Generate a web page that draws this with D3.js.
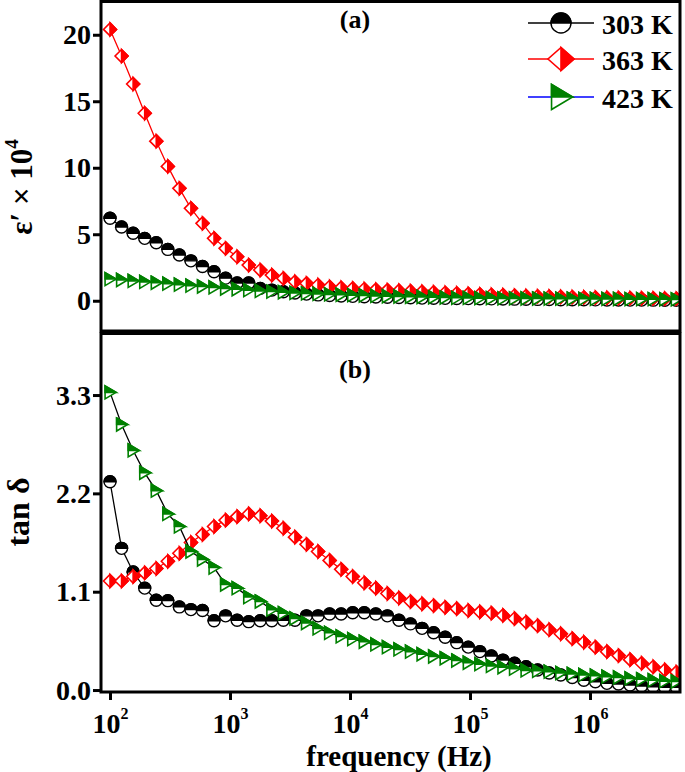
<!DOCTYPE html>
<html><head><meta charset="utf-8">
<script src="https://cdn.jsdelivr.net/npm/d3@7"></script>
<style>body{margin:0;background:#fff}svg{display:block}</style>
</head><body>
<svg id="c" width="685" height="772"></svg>
<script>
const freq = [100,124.8,155.8,194.5,242.8,303.1,378.4,472.3,589.6,735.9,
 918.3,1146,1431,1786,2230,2783,3475,4337,5414,6758,
 8433,10527,13141,16403,20477,25560,31910,39830,49720,62060,
 77450,96680,120700,150650,188060,234760,293050,365800,456650,570000,
 711200,887800,1108300,1383400,1727000,2155700,2691100,3359300,4193400,5234600];

const eps303 = [6.2,5.55,5.07,4.69,4.36,3.86,3.44,3.0,2.58,2.18,
 1.7,1.33,1.33,0.93,0.8,0.68,0.58,0.5,0.44,0.4,
 0.36,0.33,0.3,0.28,0.26,0.24,0.22,0.2,0.19,0.18,
 0.17,0.16,0.15,0.14,0.13,0.12,0.11,0.1,0.09,0.08,
 0.075,0.07,0.065,0.06,0.055,0.05,0.05,0.045,0.04,0.04];
const eps363 = [20.4,18.4,16.3,14.1,12.0,10.1,8.45,6.95,5.82,4.69,
 3.94,3.31,2.68,2.31,1.93,1.68,1.43,1.31,1.18,1.05,
 0.98,0.93,0.88,0.84,0.8,0.76,0.72,0.68,0.64,0.6,
 0.56,0.52,0.48,0.45,0.42,0.39,0.36,0.34,0.32,0.3,
 0.28,0.26,0.24,0.22,0.21,0.2,0.19,0.18,0.17,0.16];
const eps423 = [1.63,1.56,1.49,1.42,1.35,1.28,1.21,1.14,1.07,1.0,
 0.92,0.86,0.8,0.74,0.69,0.64,0.59,0.55,0.51,0.48,
 0.45,0.42,0.39,0.36,0.34,0.32,0.3,0.28,0.26,0.24,
 0.22,0.21,0.2,0.19,0.18,0.175,0.17,0.165,0.16,0.155,
 0.15,0.145,0.14,0.135,0.13,0.125,0.12,0.115,0.11,0.1];

const tan303 = [2.33,1.585,1.32,1.14,1.005,1.0,0.93,0.9,0.89,0.775,
 0.83,0.78,0.765,0.775,0.775,0.78,0.78,0.83,0.83,0.85,
 0.85,0.865,0.865,0.85,0.83,0.78,0.74,0.69,0.64,0.59,
 0.53,0.48,0.43,0.38,0.335,0.3,0.26,0.224,0.19,0.168,
 0.14,0.11,0.093,0.075,0.067,0.056,0.045,0.037,0.03,0.03];
const tan363 = [1.22,1.22,1.27,1.31,1.36,1.44,1.53,1.65,1.74,1.83,
 1.90,1.94,1.97,1.95,1.89,1.81,1.71,1.63,1.55,1.45,
 1.35,1.27,1.20,1.14,1.08,1.03,0.99,0.965,0.945,0.925,
 0.91,0.89,0.875,0.86,0.835,0.80,0.76,0.72,0.675,0.63,
 0.575,0.535,0.48,0.43,0.385,0.34,0.30,0.26,0.225,0.20];
const tan423 = [3.33,2.97,2.68,2.43,2.23,1.97,1.83,1.55,1.46,1.37,
 1.18,1.14,1.04,0.99,0.90,0.86,0.80,0.75,0.69,0.64,
 0.60,0.57,0.54,0.51,0.48,0.455,0.43,0.40,0.375,0.355,
 0.33,0.305,0.29,0.27,0.255,0.24,0.22,0.215,0.205,0.19,
 0.18,0.17,0.16,0.15,0.14,0.13,0.12,0.11,0.10,0.095];

const seriesNames = ["303 K","363 K","423 K"];
const xTicks = [1e2,1e3,1e4,1e5,1e6];
const xTickExp = ["2","3","4","5","6"];
const epsTicks = [0,5,10,15,20];
const epsTickLabels = ["0","5","10","15","20"];
const tanTicks = [0,1.1,2.2,3.3];
const tanTickLabels = ["0.0","1.1","2.2","3.3"];

const FONT = "'Liberation Serif','Times New Roman',serif";
const svg = d3.select("#c");
const L = 101, R = 680;
const x = d3.scaleLog().domain([84.1, 5.62e6]).range([L, R]);
const yTop = d3.scaleLinear().domain([-2.35, 22.5]).range([332, 1.5]);
const yBot = d3.scaleLinear().domain([-0.022, 3.994]).range([692, 333]);

const defs = svg.append("defs");
defs.append("clipPath").attr("id","clipA").append("rect").attr("x",L).attr("y",1.5).attr("width",R-L).attr("height",332-1.5);
defs.append("clipPath").attr("id","clipB").append("rect").attr("x",L).attr("y",333).attr("width",R-L).attr("height",692-333);

function circleMarker(g, r){
  g.append("circle").attr("r",r).attr("fill","#fff").attr("stroke","#000").attr("stroke-width",1.4);
  g.append("path").attr("d",`M${-r},0A${r},${r} 0 0 1 ${r},0Z`).attr("fill","#000").attr("stroke","#000").attr("stroke-width",1.4);
}
function diamondMarker(g, w, h){
  g.append("path").attr("d",`M0,${-h}L${w},0L0,${h}L${-w},0Z`).attr("fill","#fff").attr("stroke","#ff0000").attr("stroke-width",1.6);
  g.append("path").attr("d",`M0,${-h}L${w},0L0,${h}Z`).attr("fill","#ff0000").attr("stroke","#ff0000").attr("stroke-width",1.6);
}
function triMarker(g, w, h){
  const a = -w*0.45, b = w*0.55;
  g.append("path").attr("d",`M${a},${-h}L${b},0L${a},${h}Z`).attr("fill","#fff").attr("stroke","#008000").attr("stroke-width",1.6);
  g.append("path").attr("d",`M${a},${-h}L${b},0L${a},0Z`).attr("fill","#008000").attr("stroke","#008000").attr("stroke-width",1.6);
}
const markerFns = [
  g=>circleMarker(g, 6),
  g=>diamondMarker(g, 6.5, 6.5),
  g=>triMarker(g, 11, 6.5)
];

function drawPanel(yScale, data, lineColors, clipId){
  const g = svg.append("g").attr("clip-path",`url(#${clipId})`);
  data.forEach((vals, si) => {
    const pts = freq.map((f,i)=>[f, vals[i]]);
    const line = d3.line().x(d=>x(d[0])).y(d=>yScale(d[1]));
    g.append("path").attr("d", line(pts)).attr("fill","none").attr("stroke",lineColors[si]).attr("stroke-width",1.3);
    pts.forEach(p => {
      const mg = g.append("g").attr("transform",`translate(${x(p[0])},${yScale(p[1])})`);
      markerFns[si](mg);
    });
  });
}

drawPanel(yTop, [eps303, eps363, eps423], ["#000","#ff0000","#0000ff"], "clipA");
drawPanel(yBot, [tan303, tan363, tan423], ["#000","#ff0000","#000"], "clipB");

svg.append("rect").attr("x",L).attr("y",1.5).attr("width",R-L).attr("height",331-1.5).attr("fill","none").attr("stroke","#000").attr("stroke-width",3);
svg.append("rect").attr("x",L).attr("y",333.5).attr("width",R-L).attr("height",692-333.5).attr("fill","none").attr("stroke","#000").attr("stroke-width",3);

function yAxis(scale, ticks, labels){
  const ax = svg.append("g").attr("transform",`translate(${L},0)`)
    .call(d3.axisLeft(scale).tickValues(ticks).tickSize(8).tickPadding(2).tickFormat((d,i)=>labels[i]));
  ax.select(".domain").remove();
  ax.selectAll(".tick line").attr("stroke","#000").attr("stroke-width",3);
  ax.selectAll(".tick text").attr("font-family",FONT).attr("font-weight","bold").attr("font-size",28).attr("fill","#000");
}
yAxis(yTop, epsTicks, epsTickLabels);
yAxis(yBot, tanTicks, tanTickLabels);

const xa = svg.append("g").attr("transform",`translate(0,692)`)
  .call(d3.axisBottom(x).tickValues(xTicks).tickSize(8).tickFormat(()=>""));
xa.select(".domain").remove();
xa.selectAll(".tick line").attr("stroke","#000").attr("stroke-width",3);
xa.selectAll(".tick").each(function(d,i){
  const t = d3.select(this).append("text").attr("y",41).attr("text-anchor","middle")
    .attr("font-family",FONT).attr("font-weight","bold").attr("font-size",28).attr("fill","#000");
  t.append("tspan").text("10");
  t.append("tspan").attr("dy",-14).attr("font-size",16).text(xTickExp[i]);
});

svg.append("text").attr("transform","translate(399,765.5)").attr("text-anchor","middle")
  .attr("font-family",FONT).attr("font-weight","bold").attr("font-size",29).text("frequency (Hz)");
const yl1 = svg.append("text").attr("transform","translate(32,187) rotate(-90)").attr("text-anchor","middle")
  .attr("font-family",FONT).attr("font-weight","bold").attr("font-size",31);
yl1.append("tspan").text("ε′ × 10");
yl1.append("tspan").attr("dy",-14).attr("font-size",19).text("4");
svg.append("text").attr("transform","translate(29,512) rotate(-90)").attr("text-anchor","middle")
  .attr("font-family",FONT).attr("font-weight","bold").attr("font-size",32).text("tan δ");

svg.append("text").attr("x",355).attr("y",28).attr("text-anchor","middle").attr("font-family",FONT).attr("font-weight","bold").attr("font-size",26).text("(a)");
svg.append("text").attr("x",355).attr("y",378).attr("text-anchor","middle").attr("font-family",FONT).attr("font-weight","bold").attr("font-size",26).text("(b)");

const legY = [23, 59, 97];
const legLine = ["#000","#ff0000","#0000ff"];
const legSizes = [
  g=>circleMarker(g,10),
  g=>diamondMarker(g,13,11.5),
  g=>triMarker(g,21,12.5)
];
seriesNames.forEach((name,i)=>{
  const g = svg.append("g").attr("transform",`translate(0,${legY[i]})`);
  g.append("line").attr("x1",528).attr("x2",594).attr("y1",0).attr("y2",0).attr("stroke",legLine[i]).attr("stroke-width",1.5);
  const mg = g.append("g").attr("transform","translate(561,0)");
  legSizes[i](mg);
  g.append("text").attr("x",602).attr("y",11).attr("font-family",FONT).attr("font-weight","bold").attr("font-size",28).text(name);
});
</script>
</body></html>
